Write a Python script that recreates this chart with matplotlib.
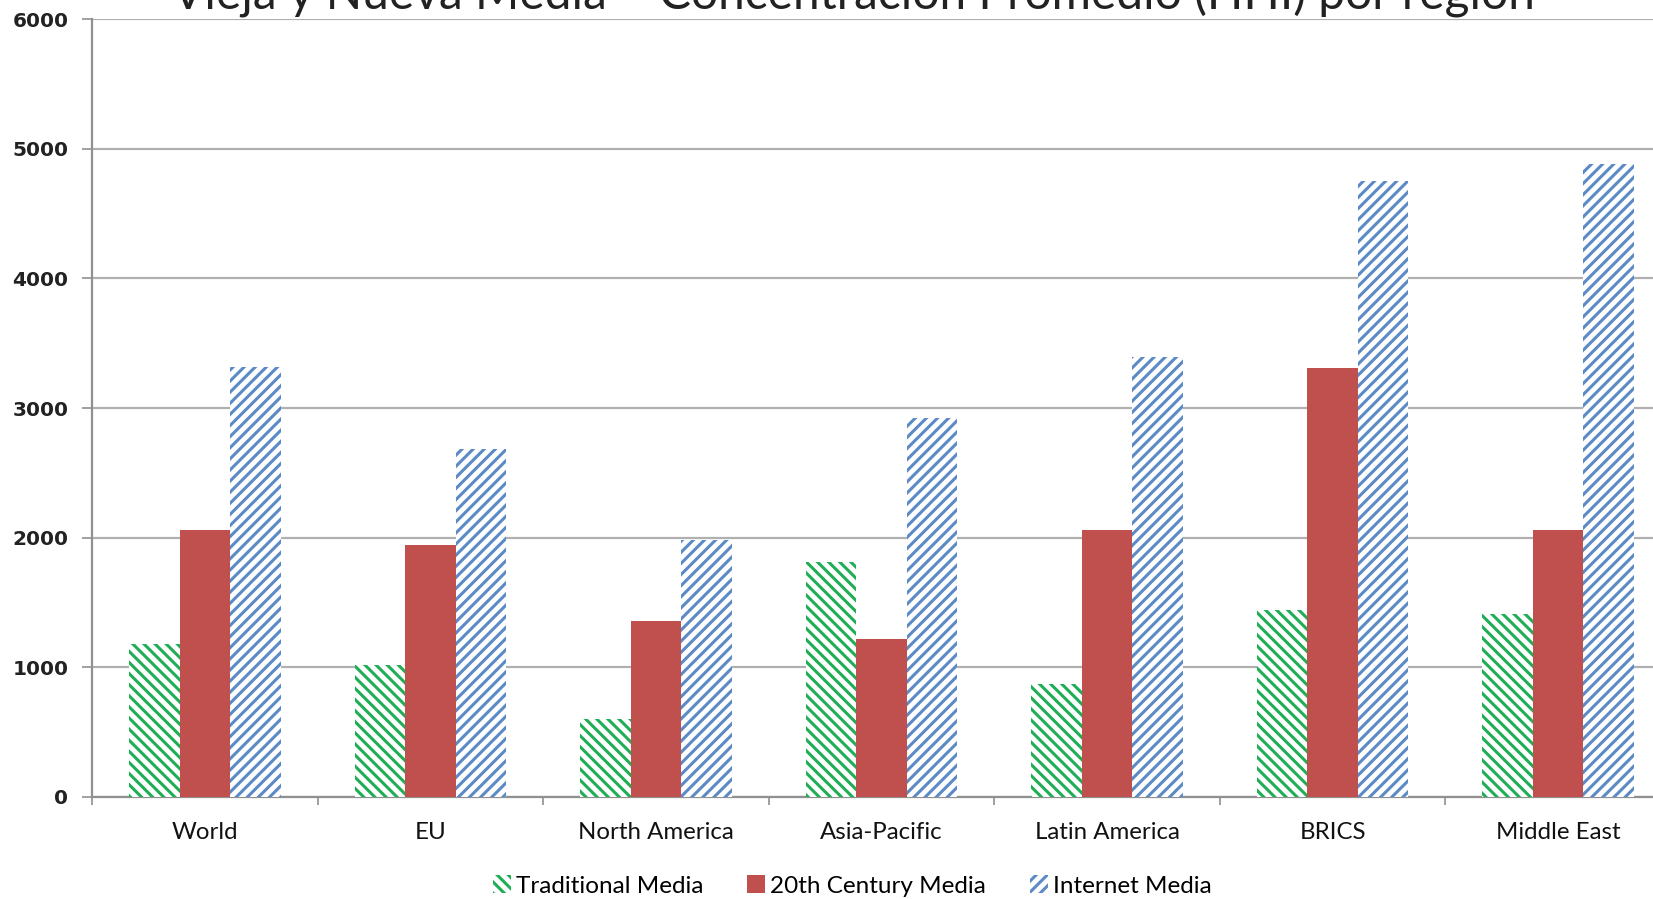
import numpy as np
import matplotlib.pyplot as plt

regions = ['World', 'EU', 'North America', 'Asia-Pacific', 'Latin America', 'BRICS', 'Middle East']
traditional = [1180, 1015, 600, 1810, 870, 1445, 1410]
century20 = [2060, 1940, 1360, 1220, 2060, 3310, 2060]
internet = [3320, 2680, 1980, 2920, 3390, 4750, 4880]

plt.rcParams['hatch.linewidth'] = 2.2

fig = plt.figure(figsize=(16.53, 8.99), dpi=100)
ax = fig.add_axes([92 / 1653, 1 - 797 / 899, 1579 / 1653, (797 - 19) / 899])

x = np.arange(len(regions))
w = 0.224
ax.bar(x - w, traditional, w, facecolor='white', edgecolor='#1fae55', linewidth=0,
       hatch='\\\\\\', label='Traditional Media', zorder=3)
ax.bar(x, century20, w, color='#c0504d', linewidth=0, label='20th Century Media', zorder=3)
ax.bar(x + w, internet, w, facecolor='white', edgecolor='#5b8ac6', linewidth=0,
       hatch='///', label='Internet Media', zorder=3)

ax.set_xlim(-0.5, len(regions) - 0.5)
ax.set_ylim(0, 6000)
ax.set_yticks(range(0, 6001, 1000))
ax.yaxis.grid(True, color='#b0b0b0', linewidth=1.6, zorder=0)
ax.set_axisbelow(True)

ax.set_xticks(x)
ax.set_xticklabels(regions, fontsize=17.3, family='Lato', color='#111111')
ax.set_xticks(np.arange(-0.5, len(regions), 1), minor=True)
ax.tick_params(axis='x', which='major', length=0, pad=18)
ax.tick_params(axis='x', which='minor', length=6, color='#909090', width=1.2)
ax.tick_params(axis='y', length=7, color='#909090', width=1.2, pad=10)
for lab in ax.get_yticklabels():
    lab.set_fontweight('bold')
    lab.set_fontsize(14.5)
    lab.set_color('#222222')

for s in ['top', 'right']:
    ax.spines[s].set_visible(False)
ax.spines['left'].set_color('#909090')
ax.spines['left'].set_linewidth(1.6)
ax.spines['bottom'].set_color('#909090')
ax.spines['bottom'].set_linewidth(1.6)

leg = fig.legend(loc='center', bbox_to_anchor=(852 / 1653, 1 - 886 / 899), ncol=3,
                 frameon=False, prop={'family': 'Lato', 'size': 17.5},
                 handlelength=0.75, handleheight=0.75, handletextpad=0.2, columnspacing=1.8)

fig.text(853 / 1653, 1 - 10 / 899, 'Vieja y Nueva Media – Concentración Promedio (HHI) por región',
         ha='center', va='baseline', fontsize=34.5, family='Lato', color='#222222')

fig.savefig('out.png', dpi=100)
